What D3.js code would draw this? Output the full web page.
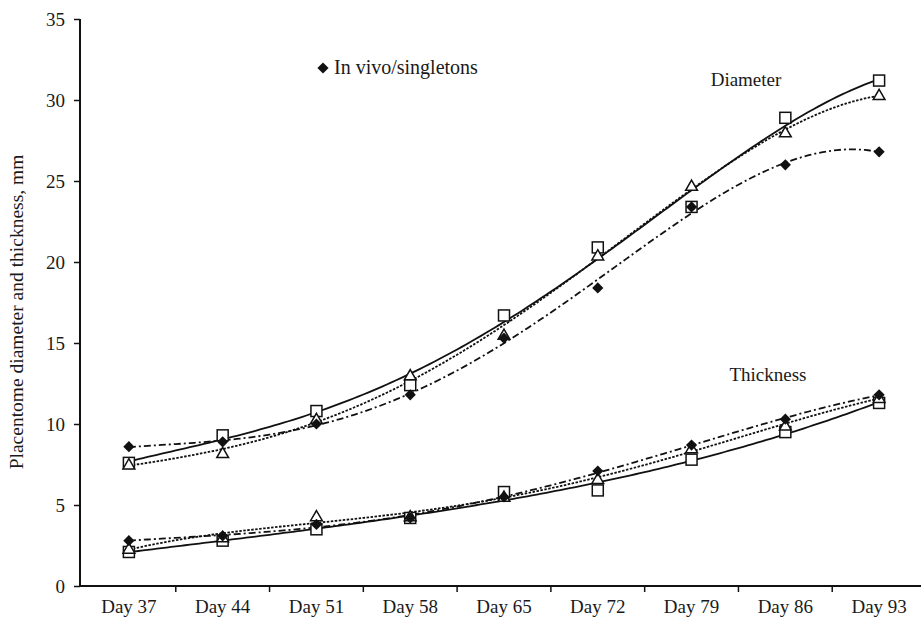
<!DOCTYPE html>
<html><head><meta charset="utf-8">
<script src="https://cdn.jsdelivr.net/npm/d3@7"></script>
<style>
html,body{margin:0;padding:0;background:#fff;}
text{font-family:"Liberation Serif","Times New Roman",serif;fill:#1a1a1a;}
</style></head>
<body>
<script>
const days = ["Day 37","Day 44","Day 51","Day 58","Day 65","Day 72","Day 79","Day 86","Day 93"];
const yTicks = [0,5,10,15,20,25,30,35];
// Diameter
const diamVivo   = [8.6, 8.9, 10.0, 11.8, 15.3, 18.4, 23.4, 26.0, 26.8];
const diamSquare = [7.6, 9.3, 10.8, 12.4, 16.7, 20.9, 23.4, 28.9, 31.2];
const diamTri    = [7.5, 8.2, 10.3, 13.0, 15.5, 20.4, 24.7, 28.0, 30.3];
// Thickness
const thickVivo   = [2.8, 3.1, 3.8, 4.2, 5.5, 7.1, 8.7, 10.3, 11.8];
const thickSquare = [2.1, 2.8, 3.5, 4.2, 5.8, 5.9, 7.8, 9.5, 11.3];
const thickTri    = [2.3, 3.0, 4.3, 4.3, 5.5, 6.6, 8.5, 9.9, 11.6];
const legendLabel = "In vivo/singletons";

const W = 922, H = 621;
const svg = d3.select("body").append("svg").attr("width", W).attr("height", H);

const x = d3.scaleBand().domain(days).range([82, 926]);
const y = d3.scaleLinear().domain([0, 35]).range([586, 19]);
const cx = d => x(d) + x.bandwidth() / 2;

// axes
const yAxis = d3.axisLeft(y).tickValues(yTicks).tickSize(6).tickPadding(9);
const gy = svg.append("g").attr("transform", "translate(80,0)").call(yAxis);
gy.select(".domain").attr("stroke", "#111").attr("stroke-width", 2).attr("d", "M0,19V586");
gy.selectAll(".tick line").attr("stroke", "#111").attr("stroke-width", 1.5);
gy.selectAll(".tick text").attr("font-size", 19).attr("font-family", "Liberation Serif");

const gx = svg.append("g").attr("transform", "translate(0,586)");
gx.append("line").attr("x1", 80).attr("x2", 921).attr("y1", 0).attr("y2", 0)
  .attr("stroke", "#111").attr("stroke-width", 2);
days.slice(1).forEach(d => {
  gx.append("line").attr("x1", x(d)).attr("x2", x(d)).attr("y1", 0).attr("y2", 6)
    .attr("stroke", "#111").attr("stroke-width", 1.5);
});
gx.selectAll("text.xl").data(days).enter().append("text").attr("class", "xl")
  .attr("x", d => cx(d)).attr("y", 27).attr("text-anchor", "middle")
  .attr("font-size", 19).text(d => d);

svg.append("text").attr("transform", "translate(23,312) rotate(-90)")
  .attr("text-anchor", "middle").attr("font-size", 19.5)
  .text("Placentome diameter and thickness, mm");

// polynomial least-squares trend (order 4)
function fitPoly(vals, order) {
  const n = order + 1, A = [], b = [];
  for (let i = 0; i < n; i++) { A.push(new Array(n).fill(0)); b.push(0); }
  vals.forEach((v, k) => {
    const t = k / 4;
    for (let i = 0; i < n; i++) {
      for (let j = 0; j < n; j++) A[i][j] += Math.pow(t, i + j);
      b[i] += v * Math.pow(t, i);
    }
  });
  for (let c = 0; c < n; c++) {
    let p = c;
    for (let r = c + 1; r < n; r++) if (Math.abs(A[r][c]) > Math.abs(A[p][c])) p = r;
    [A[c], A[p]] = [A[p], A[c]]; [b[c], b[p]] = [b[p], b[c]];
    for (let r = 0; r < n; r++) if (r !== c) {
      const f = A[r][c] / A[c][c];
      for (let j = c; j < n; j++) A[r][j] -= f * A[c][j];
      b[r] -= f * b[c];
    }
  }
  const coef = b.map((v, i) => v / A[i][i]);
  return k => coef.reduce((s, c, i) => s + c * Math.pow(k / 4, i), 0);
}
const xi = d3.scaleLinear().domain([0, days.length - 1]).range([cx(days[0]), cx(days[days.length - 1])]);
function trend(vals, dash) {
  const f = fitPoly(vals, 4);
  const pts = d3.range(0, days.length - 1 + 1e-9, 0.05).map(t => [xi(t), y(f(t))]);
  svg.append("path").attr("d", d3.line()(pts)).attr("fill", "none")
    .attr("stroke", "#111").attr("stroke-width", 1.8)
    .attr("stroke-dasharray", dash);
}
trend(diamSquare, null); trend(thickSquare, null);
trend(diamTri, "2.5,1.5"); trend(thickTri, "2.5,1.5");
trend(diamVivo, "7,3,2,3"); trend(thickVivo, "7,3,2,3");

function squares(vals) {
  svg.append("g").selectAll("rect").data(vals).enter().append("rect")
    .attr("x", (v, i) => cx(days[i]) - 5.5).attr("y", v => y(v) - 5.5)
    .attr("width", 11).attr("height", 11)
    .attr("fill", "#fff").attr("stroke", "#111").attr("stroke-width", 1.5);
}
function tris(vals) {
  const s = d3.symbol().type(d3.symbolTriangle).size(60);
  svg.append("g").selectAll("path").data(vals).enter().append("path")
    .attr("d", s).attr("transform", (v, i) => `translate(${cx(days[i])},${y(v) + 1})`)
    .attr("fill", "#fff").attr("stroke", "#111").attr("stroke-width", 1.5);
}
function diamonds(vals) {
  const s = d3.symbol().type(d3.symbolDiamond2).size(80);
  svg.append("g").selectAll("path").data(vals).enter().append("path")
    .attr("d", s).attr("transform", (v, i) => `translate(${cx(days[i])},${y(v)})`)
    .attr("fill", "#111");
}
squares(diamSquare); squares(thickSquare);
tris(diamTri); tris(thickTri);
diamonds(diamVivo); diamonds(thickVivo);

// labels
svg.append("text").attr("x", 746).attr("y", 86).attr("text-anchor", "middle").attr("font-size", 19).text("Diameter");
svg.append("text").attr("x", 768).attr("y", 381).attr("text-anchor", "middle").attr("font-size", 19).text("Thickness");
svg.append("path").attr("d", d3.symbol().type(d3.symbolDiamond2).size(80)())
  .attr("transform", "translate(323,68)").attr("fill", "#111");
svg.append("text").attr("x", 334).attr("y", 74).attr("font-size", 20).text(legendLabel);
</script>
</body></html>
